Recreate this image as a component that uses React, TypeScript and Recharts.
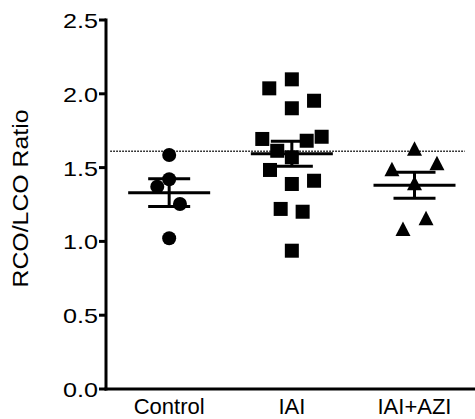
import React from "react";
import {
  ScatterChart,
  Scatter,
  XAxis,
  YAxis,
  ReferenceLine,
  ErrorBar,
} from "recharts";

const groups = ["Control", "IAI", "IAI+AZI"];
const groupTicks = [1, 2, 3];
const yTicks = [0, 0.5, 1.0, 1.5, 2.0, 2.5];
const xDomain = [0.485, 3.485];
const cutoff = 1.61;

// x = group position (with scatter jitter), y = RCO/LCO ratio
const controlX = [1.0, 1.0, 0.903, 1.088, 1.0];
const controlY = [1.585, 1.421, 1.371, 1.253, 1.021];

const iaiX = [1.816, 2.0, 2.181, 2.0, 1.759, 2.121, 2.243, 1.881, 2.0, 1.822, 2.0, 2.181, 1.909, 2.088, 2.0];
const iaiY = [2.037, 2.098, 1.953, 1.902, 1.694, 1.682, 1.709, 1.614, 1.57, 1.484, 1.389, 1.411, 1.22, 1.201, 0.937];

const aziX = [3.0, 2.816, 3.183, 3.0, 3.094, 2.906];
const aziY = [1.628, 1.488, 1.529, 1.394, 1.157, 1.084];

const toPoints = (xs: number[], ys: number[]) => xs.map((x, i) => ({ x, y: ys[i] }));

// mean ± SEM per group
const summarize = (ys: number[], x: number) => {
  const n = ys.length;
  const mean = ys.reduce((a, b) => a + b, 0) / n;
  const sd = Math.sqrt(ys.reduce((a, b) => a + (b - mean) ** 2, 0) / (n - 1));
  return { x, y: mean, sem: sd / Math.sqrt(n) };
};

const summaryData = [
  summarize(controlY, 1),
  summarize(iaiY, 2),
  summarize(aziY, 3),
];

const FONT = '"Liberation Sans", Arial, Helvetica, sans-serif';

const Dot = (p: any) => <circle cx={p.cx} cy={p.cy} r={7} fill="#000" />;
const Square = (p: any) => (
  <rect x={p.cx - 7} y={p.cy - 7} width={14} height={14} fill="#000" />
);
const Triangle = (p: any) => (
  <polygon
    points={`${p.cx},${p.cy - 7.5} ${p.cx + 7.5},${p.cy + 7} ${p.cx - 7.5},${p.cy + 7}`}
    fill="#000"
  />
);
const MeanBar = (p: any) => (
  <line x1={p.cx - 41} x2={p.cx + 41} y1={p.cy} y2={p.cy} stroke="#000" strokeWidth={3} />
);

// axis line drawn from the reference line's scaled end points
const HeavyLine = (p: any) => (
  <line
    x1={p.x1}
    y1={p.y1}
    x2={p.x2}
    y2={p.y2}
    stroke="#000"
    strokeWidth={3}
    strokeLinecap="square"
  />
);

// tick label plus a heavy tick mark running back to the axis
const YTick = ({ x, y, payload }: any) => (
  <g>
    <line x1={x + 1} x2={x + 8} y1={y} y2={y} stroke="#000" strokeWidth={3} />
    <text
      x={x}
      y={y}
      dy="0.38em"
      textAnchor="end"
      fontSize={21}
      fill="#000"
      textLength={35}
      lengthAdjust="spacingAndGlyphs"
    >
      {Number(payload.value).toFixed(1)}
    </text>
  </g>
);

const YLabel = ({ viewBox }: any) => {
  const x = viewBox.x + 20;
  const y = viewBox.y + viewBox.height / 2 - 6;
  return (
    <text
      x={x}
      y={y}
      dy="0.36em"
      textAnchor="middle"
      fontSize={22}
      fill="#000"
      transform={`rotate(-90, ${x}, ${y})`}
      textLength={178}
      lengthAdjust="spacingAndGlyphs"
    >
      RCO/LCO Ratio
    </text>
  );
};

export default function App() {
  return (
    <div style={{ position: "absolute", left: 0, top: 0, fontFamily: FONT, background: "#fff" }}>
      <ScatterChart
        width={475}
        height={419}
        margin={{ top: 20, right: 1, left: 0, bottom: 0 }}
      >
        <XAxis
          type="number"
          dataKey="x"
          domain={xDomain}
          ticks={groupTicks}
          tickFormatter={(v: number) => groups[v - 1]}
          height={30}
          tickLine={false}
          axisLine={false}
          tickSize={6}
          tickMargin={3}
          tick={{ fill: "#000", fontSize: 22 }}
          interval={0}
        />
        <YAxis
          type="number"
          dataKey="y"
          domain={[0, 2.5]}
          ticks={yTicks}
          width={106}
          tickSize={6}
          tickMargin={2}
          axisLine={false}
          tickLine={false}
          tick={<YTick />}
          interval={0}
          label={{ value: "RCO/LCO Ratio", content: <YLabel /> }}
        />
        <ReferenceLine
          segment={[
            { x: 0.52, y: cutoff },
            { x: 3.41, y: cutoff },
          ]}
          stroke="#000"
          strokeWidth={1.5}
          strokeDasharray="1.5 1.5"
        />
        <ReferenceLine x={xDomain[0]} shape={HeavyLine} ifOverflow="visible" />
        <ReferenceLine y={0} shape={HeavyLine} ifOverflow="visible" />
        <Scatter data={toPoints(controlX, controlY)} shape={Dot} isAnimationActive={false} />
        <Scatter data={toPoints(iaiX, iaiY)} shape={Square} isAnimationActive={false} />
        <Scatter data={toPoints(aziX, aziY)} shape={Triangle} isAnimationActive={false} />
        <Scatter data={summaryData} shape={MeanBar} isAnimationActive={false}>
          <ErrorBar
            dataKey="sem"
            direction="y"
            width={21}
            stroke="#000"
            strokeWidth={3}
            isAnimationActive={false}
          />
        </Scatter>
      </ScatterChart>
    </div>
  );
}
